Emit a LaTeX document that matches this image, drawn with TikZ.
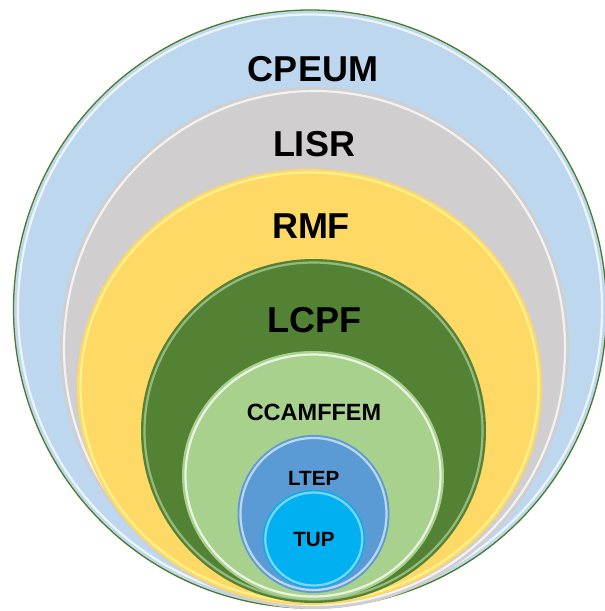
\documentclass[tikz,border=0pt]{standalone}
\usepackage{fontspec}
\setmainfont{Liberation Sans}
\definecolor{cBlue}{HTML}{BDD7EE}
\definecolor{cGray}{HTML}{D0CECE}
\definecolor{cYellow}{HTML}{FFD966}
\definecolor{cDark}{HTML}{548235}
\definecolor{cLight}{HTML}{A9D18E}
\definecolor{cMid}{HTML}{5B9BD5}
\definecolor{cCyan}{HTML}{00B0F0}
\definecolor{cLine}{HTML}{4A7A2A}
\tikzset{
  bevel/.style={draw=white, line width=2.2pt, opacity=0.75},
  lbl/.style={anchor=base, inner sep=0pt, font=\bfseries, text=black},
}
\begin{document}
\begin{tikzpicture}[x=1pt, y=-1pt]
\useasboundingbox (0,0) rectangle (605,611);
% CPEUM
\fill[cBlue, draw=cLine, line width=1.3pt] (310,309) ellipse [x radius=296.5pt, y radius=299pt];
\draw[bevel] (310,309) ellipse [x radius=292pt, y radius=294.5pt];
% LISR
\fill[cGray] (314.5,348) ellipse [x radius=254.5pt, y radius=261pt];
\draw[bevel] (314.5,348) ellipse [x radius=250.5pt, y radius=257pt];
% RMF
\fill[cYellow] (309.5,387) ellipse [x radius=232.5pt, y radius=218pt];
\draw[bevel, draw=yellow!40!white] (309.5,387) ellipse [x radius=229pt, y radius=214.5pt];
% LCPF
\fill[cDark] (313.5,431) ellipse [x radius=172.5pt, y radius=172pt];
\draw[bevel, draw=cLight!70!white, opacity=0.6] (313.5,431) ellipse [x radius=169pt, y radius=168.5pt];
% CCAMFFEM
\fill[cLight] (313,475.5) ellipse [x radius=131pt, y radius=124.5pt];
\draw[bevel] (313,475.5) ellipse [x radius=127.5pt, y radius=121pt];
% LTEP
\fill[cMid] (313.5,514) ellipse [x radius=76pt, y radius=79pt];
\draw[bevel, opacity=0.6] (313.5,514) ellipse [x radius=73pt, y radius=76pt];
% TUP
\fill[cCyan] (313.8,539) ellipse [x radius=51.2pt, y radius=49pt];
\draw[bevel, draw=cyan!30!white, opacity=0.7] (313.8,539) ellipse [x radius=48.5pt, y radius=46.5pt];
% labels
\node[lbl, font=\fontsize{36}{40}\selectfont\bfseries] (cpeum) at (313,81) {CPEUM};
\node[lbl, font=\fontsize{36}{40}\selectfont\bfseries] (lisr) at (314,156.4) {LISR};
\node[lbl, font=\fontsize{36}{40}\selectfont\bfseries] (rmf) at (311,238.6) {RMF};
\node[lbl, font=\fontsize{36}{40}\selectfont\bfseries] (lcpf) at (314.5,332.8) {LCPF};
\node[lbl, font=\fontsize{23.5}{26}\selectfont\bfseries] (ccam) at (314,420) {CCAMFFEM};
\node[lbl, font=\fontsize{20.6}{23}\selectfont\bfseries] (ltep) at (313.7,485) {LTEP};
\node[lbl, font=\fontsize{20.6}{23}\selectfont\bfseries] (tup) at (314,546) {TUP};
\end{tikzpicture}
\end{document}
